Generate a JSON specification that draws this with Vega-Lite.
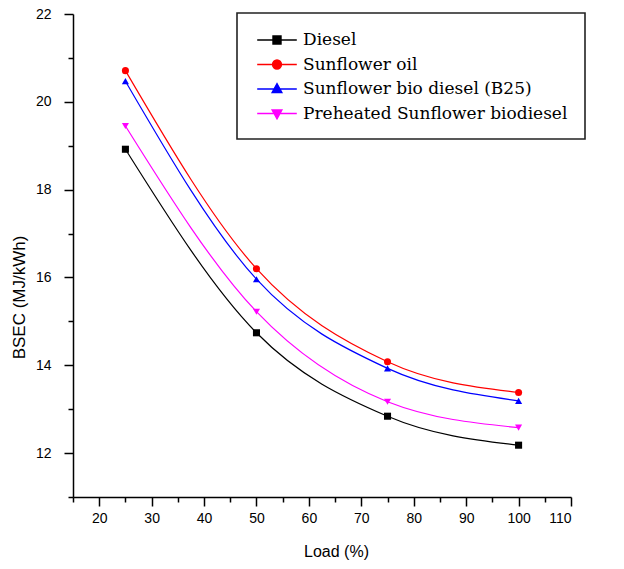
{
  "$schema": "https://vega.github.io/schema/vega-lite/v6.json",
  "width": 498,
  "height": 483,
  "autosize": "none",
  "padding": {"left": 73, "top": 14, "right": 53, "bottom": 72},
  "background": "white",
  "config": {
    "view": {"stroke": null},
    "axis": {
      "grid": false,
      "domainColor": "black",
      "tickColor": "black",
      "labelColor": "black",
      "titleColor": "black",
      "domainWidth": 1.5,
      "tickWidth": 1.5,
      "labelFont": "Liberation Sans",
      "labelFontSize": 14,
      "titleFont": "Liberation Sans",
      "titleFontWeight": "normal"
    }
  },
  "data": {
    "values": [
      {"fuel": "Diesel", "load": 25, "bsec": 18.92},
      {"fuel": "Diesel", "load": 50, "bsec": 14.74},
      {"fuel": "Diesel", "load": 75, "bsec": 12.84},
      {"fuel": "Diesel", "load": 100, "bsec": 12.18},
      {"fuel": "Sunflower oil", "load": 25, "bsec": 20.71},
      {"fuel": "Sunflower oil", "load": 50, "bsec": 16.2},
      {"fuel": "Sunflower oil", "load": 75, "bsec": 14.08},
      {"fuel": "Sunflower oil", "load": 100, "bsec": 13.38},
      {"fuel": "Sunflower bio diesel (B25)", "load": 25, "bsec": 20.47},
      {"fuel": "Sunflower bio diesel (B25)", "load": 50, "bsec": 15.96},
      {"fuel": "Sunflower bio diesel (B25)", "load": 75, "bsec": 13.93},
      {"fuel": "Sunflower bio diesel (B25)", "load": 100, "bsec": 13.19},
      {"fuel": "Preheated Sunflower biodiesel", "load": 25, "bsec": 19.45},
      {"fuel": "Preheated Sunflower biodiesel", "load": 50, "bsec": 15.22},
      {"fuel": "Preheated Sunflower biodiesel", "load": 75, "bsec": 13.17},
      {"fuel": "Preheated Sunflower biodiesel", "load": 100, "bsec": 12.58}
    ]
  },
  "layer": [
    {
      "mark": {"type": "line", "interpolate": "monotone", "strokeWidth": 1.2},
      "encoding": {
        "x": {
          "field": "load", "type": "quantitative",
          "scale": {"domain": [15, 110], "nice": false, "zero": false},
          "axis": {
            "orient": "bottom",
            "values": [20, 30, 40, 50, 60, 70, 80, 90, 100, 110],
            "tickSize": 9,
            "labelPadding": 5,
            "title": "Load (%)",
            "titleFontSize": 16,
            "titleX": 263,
            "titleY": 54,
            "titleBaseline": "middle",
            "titleAlign": "center"
          }
        },
        "y": {
          "field": "bsec", "type": "quantitative",
          "scale": {"domain": [11, 22], "nice": false, "zero": false},
          "axis": {
            "orient": "left",
            "values": [12, 14, 16, 18, 20, 22],
            "tickSize": 9,
            "labelPadding": 13,
            "title": "BSEC (MJ/kWh)",
            "titleFontSize": 17,
            "titleX": -54,
            "titleY": 283,
            "titleBaseline": "middle",
            "titleAlign": "center"
          }
        },
        "color": {
          "field": "fuel", "type": "nominal",
          "scale": {
            "domain": ["Diesel", "Sunflower oil", "Sunflower bio diesel (B25)", "Preheated Sunflower biodiesel"],
            "range": ["#000000", "#FF0000", "#0000FF", "#FF00FF"]
          },
          "legend": {
            "orient": "none",
            "legendX": 164,
            "legendY": -1,
            "title": null,
            "padding": 17,
            "strokeColor": "#222222",
            "labelFont": "DejaVu Serif",
            "labelFontSize": 17,
            "labelColor": "black",
            "labelLimit": 500,
            "symbolOffset": 13,
            "labelOffset": 16,
            "symbolSize": 324,
            "symbolStrokeWidth": 1.3,
            "rowPadding": 6.5,
            "encode": {
              "legend": {"update": {"strokeWidth": {"value": 1.6}}},
              "symbols": {
                "update": {
                  "shape": {"signal": "datum.value == 'Diesel' ? 'M-2.2,0H2.2M-0.45,-0.45H0.45V0.45H-0.45Z' : datum.value == 'Sunflower oil' ? 'M-2.2,0H2.2M0.5,0A0.5,0.5,0,1,1,-0.5,0A0.5,0.5,0,1,1,0.5,0Z' : datum.value == 'Sunflower bio diesel (B25)' ? 'M-2.2,0H2.2M0,-0.6L0.55,0.4H-0.55Z' : 'M-2.2,0H2.2M0,0.6L0.55,-0.4H-0.55Z'"},
                  "fill": {"signal": "scale('color', datum.value)"},
                  "opacity": {"value": 1},
                  "fillOpacity": {"value": 1},
                  "strokeOpacity": {"value": 1}
                }
              }
            }
          }
        }
      }
    },
    {
      "transform": [{"filter": "datum.fuel == 'Diesel'"}],
      "mark": {"type": "point", "shape": "square", "filled": true, "size": 50, "opacity": 1},
      "encoding": {
        "x": {
          "field": "load", "type": "quantitative",
          "axis": {
            "orient": "bottom",
            "values": [15, 25, 35, 45, 55, 65, 75, 85, 95, 105],
            "tickSize": 5,
            "labels": false,
            "domain": false,
            "title": null
          }
        },
        "y": {
          "field": "bsec", "type": "quantitative",
          "axis": {
            "orient": "left",
            "values": [11, 13, 15, 17, 19, 21],
            "tickSize": 5,
            "labels": false,
            "domain": false,
            "title": null
          }
        },
        "color": {"field": "fuel", "type": "nominal", "legend": null}
      }
    },
    {
      "transform": [{"filter": "datum.fuel == 'Sunflower oil'"}],
      "mark": {"type": "point", "shape": "circle", "filled": true, "size": 50, "opacity": 1},
      "encoding": {
        "x": {"field": "load", "type": "quantitative", "axis": null},
        "y": {"field": "bsec", "type": "quantitative", "axis": null},
        "color": {"field": "fuel", "type": "nominal", "legend": null}
      }
    },
    {
      "transform": [{"filter": "datum.fuel == 'Sunflower bio diesel (B25)'"}],
      "mark": {"type": "point", "shape": "triangle-up", "filled": true, "size": 50, "opacity": 1},
      "encoding": {
        "x": {"field": "load", "type": "quantitative", "axis": null},
        "y": {"field": "bsec", "type": "quantitative", "axis": null},
        "color": {"field": "fuel", "type": "nominal", "legend": null}
      }
    },
    {
      "transform": [{"filter": "datum.fuel == 'Preheated Sunflower biodiesel'"}],
      "mark": {"type": "point", "shape": "triangle-down", "filled": true, "size": 50, "opacity": 1},
      "encoding": {
        "x": {"field": "load", "type": "quantitative", "axis": null},
        "y": {"field": "bsec", "type": "quantitative", "axis": null},
        "color": {"field": "fuel", "type": "nominal", "legend": null}
      }
    }
  ],
  "resolve": {"axis": {"x": "independent", "y": "independent"}}
}
